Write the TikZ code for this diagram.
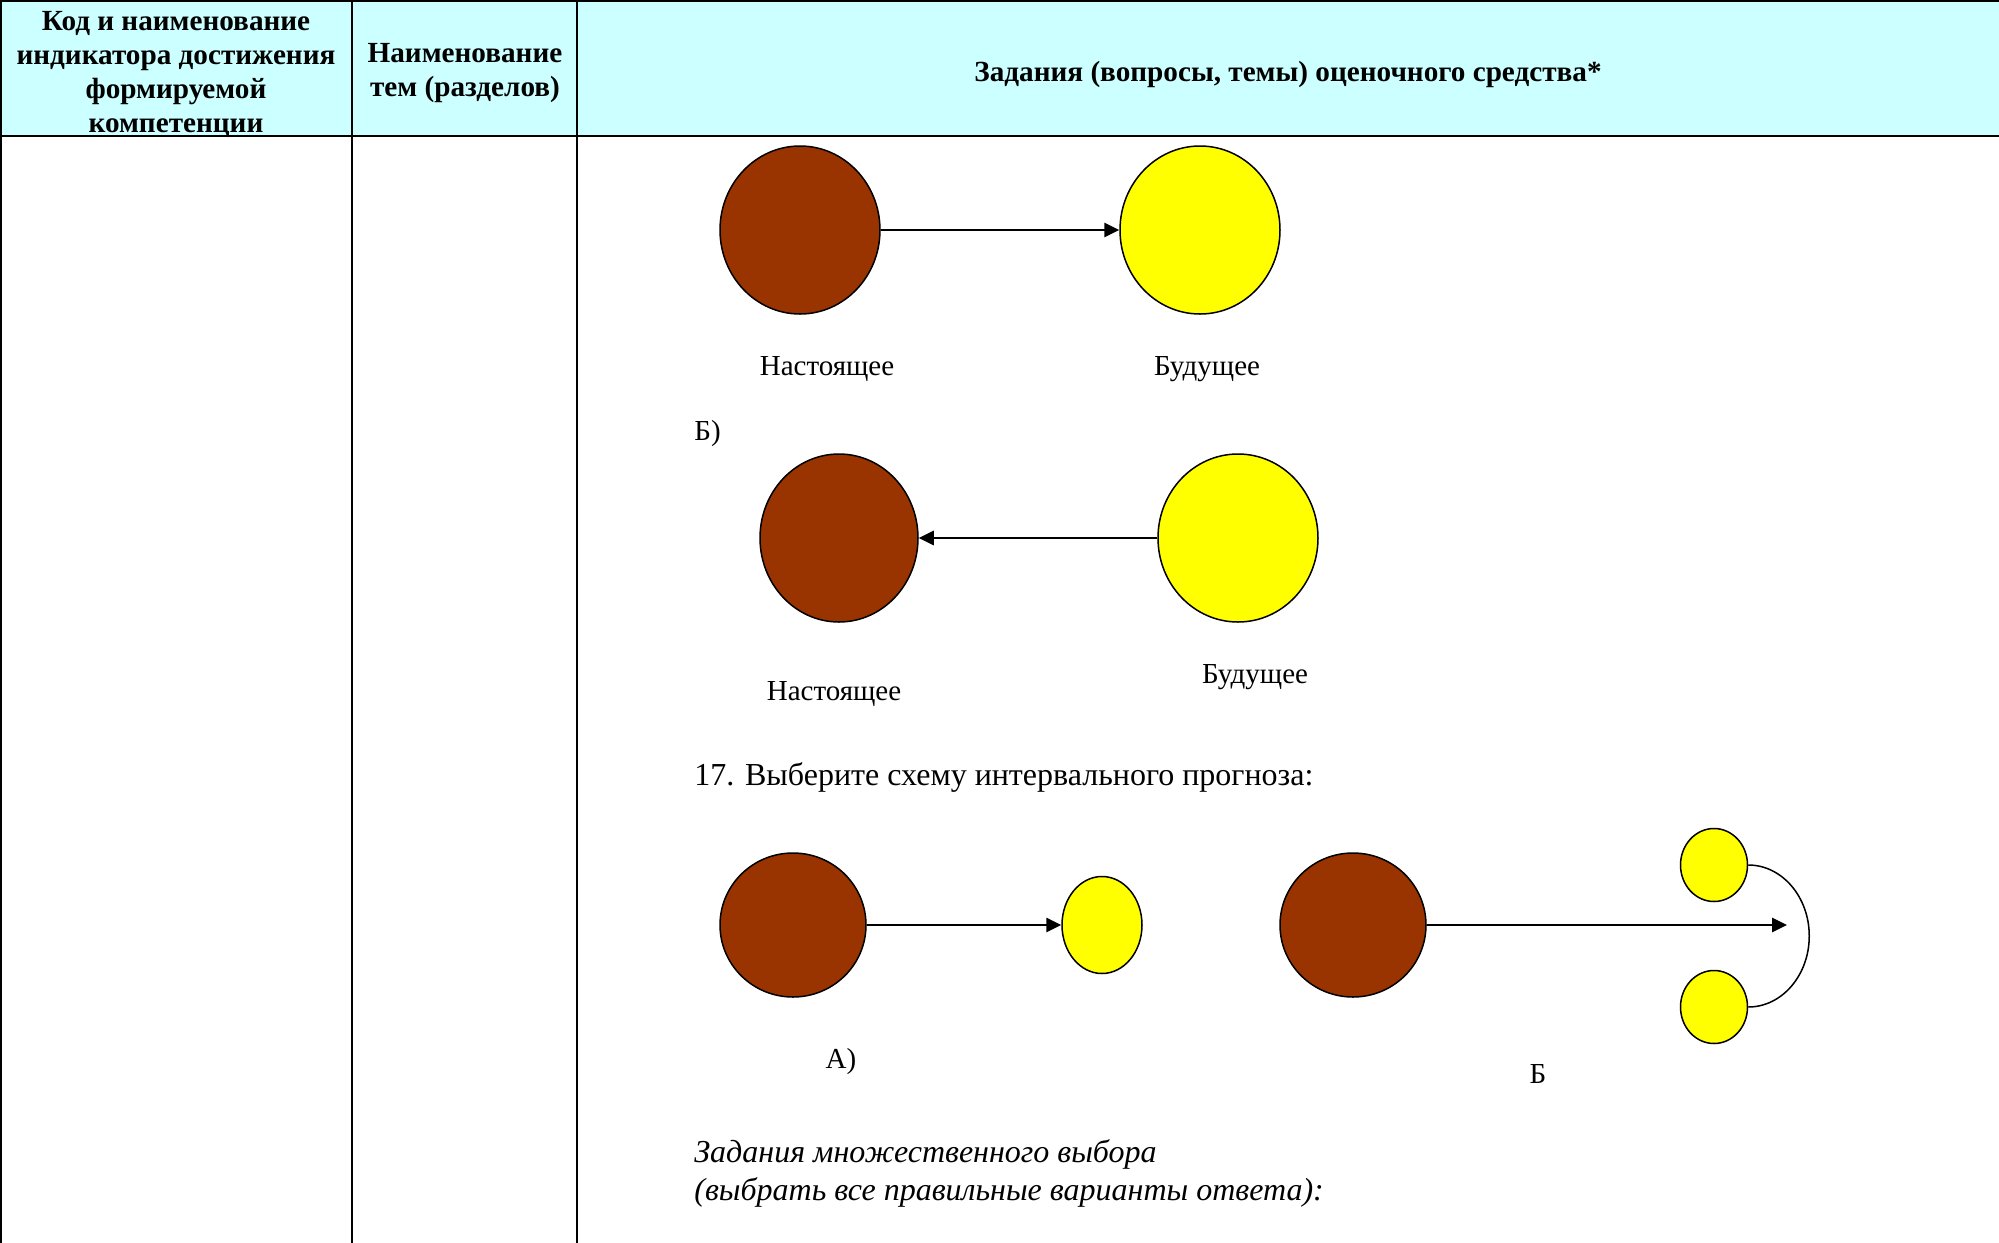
\documentclass[tikz,border=0pt]{standalone}
\usepackage{fontspec}
\setmainfont{Liberation Serif}
\usetikzlibrary{shapes.geometric,arrows.meta}
\definecolor{hdrcyan}{HTML}{CCFFFF}
\definecolor{nowbrown}{HTML}{993300}
\definecolor{futyellow}{HTML}{FFFF00}
\begin{document}
\begin{tikzpicture}[x=0.5pt,y=-0.5pt,
  grid/.style={line width=1pt,black},
  hdr/.style={font=\bfseries\fontsize{14.6}{17}\selectfont,align=center,inner sep=0pt},
  body/.style={font=\fontsize{14.5}{17}\selectfont,inner sep=0pt},
  bigbody/.style={font=\fontsize{16}{19}\selectfont,inner sep=0pt,anchor=base west},
  ital/.style={font=\itshape\fontsize{16}{19}\selectfont,inner sep=0pt,anchor=base west},
  blob/.style={ellipse,draw=black,line width=0.75pt,inner sep=0pt},
  now/.style={blob,fill=nowbrown},
  fut/.style={blob,fill=futyellow},
  arr/.style={line width=0.75pt,-{Triangle[length=7.5pt,width=7.2pt]}},
  curve/.style={line width=0.75pt}]
\useasboundingbox (0,0) rectangle (1999,1243);
% table
\fill[hdrcyan] (0,0) rectangle (1999,136);
\draw[grid] (0,1) -- (1999,1);
\draw[grid] (0,136) -- (1999,136);
\draw[grid] (0.5,0) -- (0.5,1243);
\draw[grid] (352,0) -- (352,1243);
\draw[grid] (577,0) -- (577,1243);
\node[hdr] (h1) at (176,74) {Код и наименование\\индикатора достижения\\формируемой\\компетенции};
\node[hdr] (h2) at (465,73) {Наименование\\тем (разделов)};
\node[hdr] (h3) at (1288,74) {Задания (вопросы, темы) оценочного средства*};
% pair 1
\node[now,minimum width=80pt,minimum height=84pt] (P1) at (800,230) {};
\node[fut,minimum width=80pt,minimum height=84pt] (F1) at (1200,230) {};
\draw[arr] (P1) -- (F1);
\node[body,anchor=base] (lp1) at (827,375) {Настоящее};
\node[body,anchor=base] (lf1) at (1207,375) {Будущее};
\node[body,anchor=base west] (lb) at (694,440) {Б)};
% pair 2
\node[now,minimum width=79pt,minimum height=84pt] (P2) at (839,538) {};
\node[fut,minimum width=80pt,minimum height=84pt] (F2) at (1238,538) {};
\draw[arr] (F2) -- (P2);
\node[body,anchor=base] (lp2) at (834,700) {Настоящее};
\node[body,anchor=base] (lf2) at (1255,683) {Будущее};
% question 17
\node[bigbody] (q17) at (694,785) {17. Выберите схему интервального прогноза:};
% scheme A
\node[now,minimum width=73pt,minimum height=72pt] (P3) at (793,925) {};
\node[fut,minimum width=40pt,minimum height=48.5pt] (F3) at (1102,925) {};
\draw[arr] (P3) -- (F3);
\node[body,anchor=base] (la) at (841,1068) {А)};
% scheme B
\node[now,minimum width=73pt,minimum height=72pt] (P4) at (1353,925) {};
\node[fut,minimum width=33.5pt,minimum height=36.5pt] (T4) at (1714,865) {};
\node[fut,minimum width=33.5pt,minimum height=36.5pt] (B4) at (1714,1007) {};
\coordinate (tip4) at (1787,925);
\draw[arr] (P4) -- (tip4);
\draw[curve] (T4.east) arc[start angle=90,end angle=-90,x radius=30.5pt,y radius=35.5pt];
\node[body,anchor=base] (lbb) at (1538,1083) {Б};
% multiple choice
\node[ital] (m1) at (694,1162) {Задания множественного выбора};
\node[ital] (m2) at (694,1200) {(выбрать все правильные варианты ответа):};
\end{tikzpicture}
\end{document}
